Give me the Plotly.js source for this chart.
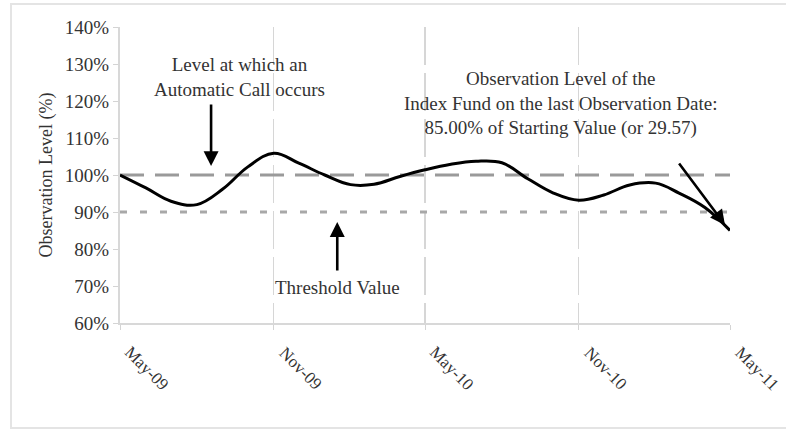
<!DOCTYPE html>
<html>
<head>
<meta charset="utf-8">
<script src="https://cdn.plot.ly/plotly-3.0.1.min.js"></script>
<style>
  html, body { margin: 0; padding: 0; background: #fff; }
  #wrap { position: relative; width: 786px; height: 429px; overflow: hidden; }
  #frame { position: absolute; left: 10px; top: 3px; width: 790px; height: 422px;
           border-top: 2px solid #e4e4e4; border-left: 2px solid #e4e4e4; border-bottom: 2px solid #e4e4e4; pointer-events: none; }
  #chart { position: absolute; left: 0; top: 0; width: 786px; height: 429px; }
</style>
</head>
<body>
<div id="wrap">
  <div id="chart"></div>
  <div id="frame"></div>
</div>
<script>
// Monthly observation dates and levels (% of starting value)
const dates = [
  "2009-05-01","2009-06-01","2009-07-01","2009-08-01","2009-09-01","2009-10-01","2009-11-01",
  "2009-12-01","2010-01-01","2010-02-01","2010-03-01","2010-04-01","2010-05-01",
  "2010-06-01","2010-07-01","2010-08-01","2010-09-01","2010-10-01","2010-11-01",
  "2010-12-01","2011-01-01","2011-02-01","2011-03-01","2011-04-01","2011-05-01"
];
const levels = [
  100.0, 96.5, 92.9, 92.0, 96.2, 102.2, 105.9,
  103.2, 100.0, 97.4, 97.5, 99.6, 101.4,
  102.9, 103.7, 103.3, 99.0, 95.2, 93.2,
  94.6, 97.3, 97.8, 95.1, 91.2, 85.0
];
const callLevel = 100;
const thresholdLevel = 90;
const tickDates = ["2009-05-01","2009-11-01","2010-05-01","2010-11-01","2011-05-01"];
const tickLabels = ["May-09","Nov-09","May-10","Nov-10","May-11"];
const yTicks = [60,70,80,90,100,110,120,130,140];
const yTickLabels = ["60%","70%","80%","90%","100%","110%","120%","130%","140%"];

const serif = "'Liberation Serif', 'Times New Roman', serif";
const txt = "#333";
const fs = 19;

const xStart = dates[0], xEnd = dates[dates.length - 1];

const traces = [
  { x: [xStart, xEnd], y: [callLevel, callLevel], mode: "lines",
    line: { color: "#9a9a9a", width: 3, dash: "24px,11px" }, hoverinfo: "skip" },
  { x: [xStart, xEnd], y: [thresholdLevel, thresholdLevel], mode: "lines",
    line: { color: "#a8a8a8", width: 3, dash: "7px,13px" }, hoverinfo: "skip" },
  { x: dates, y: levels, mode: "lines",
    line: { color: "#000", width: 3, shape: "spline", smoothing: 1.1 } }
];

const tickAnnotations = tickDates.map((d, i) => ({
  x: d, y: 0, xref: "x", yref: "paper", yanchor: "middle", xanchor: "center",
  yshift: -45, xshift: 27, textangle: 45, showarrow: false,
  text: tickLabels[i], font: { family: serif, size: 17, color: txt }
}));

const layout = {
  width: 786, height: 429,
  margin: { l: 120, r: 56, t: 27, b: 106 },
  paper_bgcolor: "rgba(0,0,0,0)", plot_bgcolor: "rgba(0,0,0,0)",
  showlegend: false,
  font: { family: serif, size: fs, color: txt },
  xaxis: {
    type: "date",
    range: [xStart, xEnd],
    tickvals: tickDates, ticktext: tickLabels,
    showticklabels: false,
    ticks: "outside", ticklen: 5, tickcolor: "#d4d4d4",
    showgrid: true, gridcolor: "#d6d6d6", gridwidth: 1.2, griddash: "38px,8px",
    showline: true, linecolor: "#d8d8d8", linewidth: 2,
    zeroline: false
  },
  yaxis: {
    range: [60, 140],
    tickvals: yTicks, ticktext: yTickLabels,
    ticks: "outside", ticklen: 5, tickcolor: "#d4d4d4",
    showgrid: false,
    showline: true, linecolor: "#d8d8d8", linewidth: 2,
    zeroline: false,
    tickfont: { family: serif, size: fs, color: txt },
    title: { text: "Observation Level (%)", font: { family: serif, size: 18, color: txt }, standoff: 8 }
  },
  annotations: tickAnnotations.concat([
    { x: "2009-08-18", y: 102.4, xref: "x", yref: "y", text: "", showarrow: true,
      ax: 0, ay: -63, arrowhead: 2, arrowsize: 1.15, arrowwidth: 2.6, arrowcolor: "#000" },
    { x: "2009-09-21", y: 126.4, xref: "x", yref: "y", showarrow: false,
      text: "Level at which an<br>Automatic Call occurs", font: { family: serif, size: fs, color: txt } },
    { x: "2010-01-16", y: 87.3, xref: "x", yref: "y", text: "", showarrow: true,
      ax: 0, ay: 50, arrowhead: 2, arrowsize: 1.15, arrowwidth: 2.6, arrowcolor: "#000" },
    { x: "2010-01-16", y: 69.5, xref: "x", yref: "y", showarrow: false,
      text: "Threshold Value", font: { family: serif, size: fs, color: txt } },
    { x: "2011-04-25", y: 86.5, xref: "x", yref: "y", text: "", showarrow: true,
      ax: -47, ay: -63, arrowhead: 2, arrowsize: 1.15, arrowwidth: 2.6, arrowcolor: "#000" },
    { x: "2010-10-10", y: 119.2, xref: "x", yref: "y", showarrow: false,
      text: "Observation Level of the<br>Index Fund on the last Observation Date:<br>85.00% of Starting Value (or 29.57)",
      font: { family: serif, size: fs, color: txt } }
  ])
};

Plotly.newPlot("chart", traces, layout, { displayModeBar: false, staticPlot: true });
</script>
</body>
</html>
